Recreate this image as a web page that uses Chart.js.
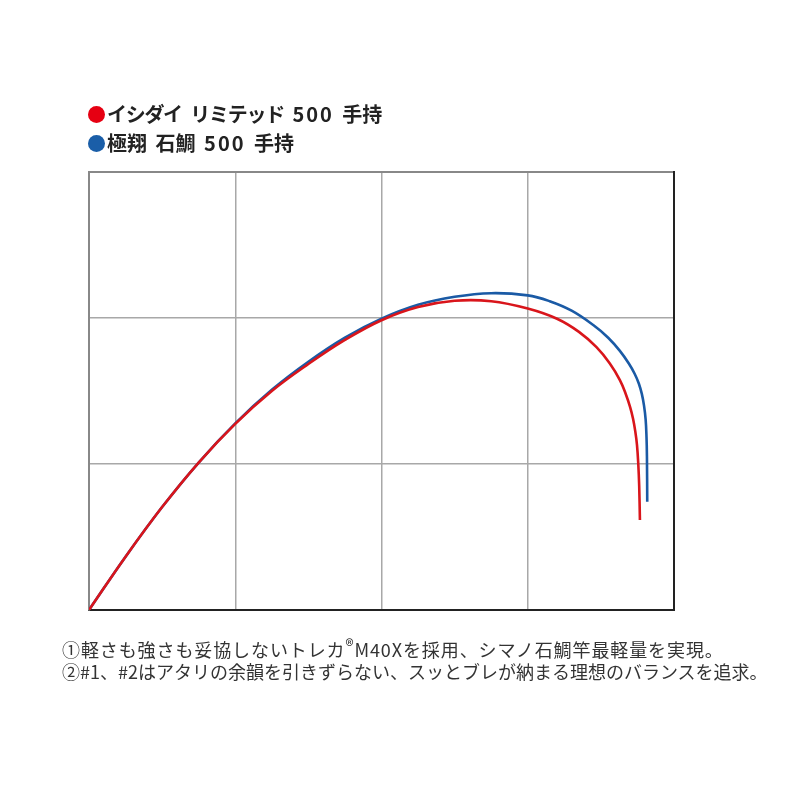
<!DOCTYPE html>
<html><head><meta charset="utf-8">
<script src="https://cdn.jsdelivr.net/npm/chart.js@4"></script>
<style>
html,body{margin:0;padding:0;background:#fff;}
#wrap{position:relative;width:800px;height:800px;}
#c{position:absolute;left:0;top:0;}
.leg{position:absolute;left:88px;font-family:"Noto Sans CJK JP","Noto Sans",sans-serif;font-weight:bold;font-size:20px;color:#222;white-space:nowrap;word-spacing:4px;}
.num{letter-spacing:2px;}
.kana{letter-spacing:-1.3px;}
.dot{display:inline-block;width:17px;height:17px;border-radius:50%;vertical-align:-1px;margin-right:2px;}
.note{position:absolute;left:62px;font-family:"Noto Sans CJK JP",sans-serif;font-size:18px;color:#333;white-space:nowrap;}
sup{font-size:17px;line-height:0;vertical-align:5px;}
</style></head>
<body><div id="wrap">
<canvas id="c" width="800" height="800"></canvas>
<div class="leg" style="top:99px"><span class="dot" style="background:#e60012"></span><span class="kana">イシダイ</span> <span class="kana">リミテッド</span> <span class="num">500</span> 手持</div>
<div class="leg" style="top:128px"><span class="dot" style="background:#1a5ea8"></span>極翔 石鯛 <span class="num">500</span> 手持</div>
<div class="note" style="top:636px;letter-spacing:0.9px">①軽さも強さも妥協しないトレカ<sup>®</sup>M40Xを採用、シマノ石鯛竿最軽量を実現。</div>
<div class="note" style="top:658px">②#1、#2はアタリの余韻を引きずらない、スッとブレが納まる理想のバランスを追求。</div>
</div>
<script>
const seriesNames = ["イシダイ リミテッド 500 手持", "極翔 石鯛 500 手持"];
const redX = [0, 0.25, 0.5, 0.75, 1.0, 1.25, 1.5, 1.75, 2.0, 2.25, 2.5, 2.75, 3.0, 3.2, 3.35, 3.47, 3.56, 3.63, 3.67, 3.70, 3.72, 3.735, 3.747, 3.756, 3.762, 3.767];
const redY = [0, 0.365, 0.705, 1.01, 1.275, 1.5, 1.685, 1.85, 1.985, 2.075, 2.118, 2.115, 2.065, 1.995, 1.905, 1.80, 1.69, 1.575, 1.48, 1.39, 1.31, 1.225, 1.13, 0.995, 0.85, 0.616];
const blueX = [0, 0.25, 0.5, 0.75, 1.0, 1.25, 1.5, 1.75, 2.0, 2.25, 2.5, 2.75, 3.0, 3.15, 3.3, 3.45, 3.55, 3.63, 3.69, 3.73, 3.76, 3.78, 3.795, 3.806, 3.812, 3.815, 3.817];
const blueY = [0, 0.365, 0.705, 1.01, 1.278, 1.508, 1.7, 1.865, 1.995, 2.09, 2.145, 2.17, 2.155, 2.115, 2.05, 1.95, 1.865, 1.775, 1.69, 1.62, 1.55, 1.48, 1.40, 1.305, 1.185, 1.05, 0.742];
const xTicks = [0, 1, 2, 3, 4];
const yTicks = [0, 1, 2, 3];

const toPts = (xs, ys) => xs.map((x, i) => ({x: x, y: ys[i]}));
const hidden = {display: false};
new Chart(document.getElementById('c'), {
  type: 'scatter',
  data: {datasets: [
    {label: seriesNames[0], data: toPts(redX, redY), showLine: true, borderColor: '#d9151b', borderWidth: 2.6, pointRadius: 0, tension: 0.4, fill: false},
    {label: seriesNames[1], data: toPts(blueX, blueY), showLine: true, borderColor: '#1a5aa5', borderWidth: 2.6, pointRadius: 0, tension: 0.4, fill: false}
  ]},
  options: {
    responsive: false, animation: false,
    layout: {padding: {left: 89, right: 126, top: 172, bottom: 190}},
    plugins: {legend: hidden, tooltip: {enabled: false}},
    scales: {
      x: {type: 'linear', min: xTicks[0], max: xTicks[xTicks.length-1],
          afterBuildTicks: s => { s.ticks = xTicks.map(v => ({value: v})); },
          ticks: {display: false}, grid: {color: '#a8a8a8', lineWidth: 1.5, drawTicks: false},
          border: {color: '#222', width: 2}},
      y: {type: 'linear', min: yTicks[0], max: yTicks[yTicks.length-1],
          afterBuildTicks: s => { s.ticks = yTicks.map(v => ({value: v})); },
          ticks: {display: false}, grid: {color: '#a8a8a8', lineWidth: 1.5, drawTicks: false},
          border: {color: '#888', width: 2}},
      x2: {type: 'linear', position: 'top', min: 0, max: 4, ticks: {display: false},
          grid: {display: false, drawTicks: false}, border: {color: '#888', width: 2}},
      y2: {type: 'linear', position: 'right', min: 0, max: 3, ticks: {display: false},
          grid: {display: false, drawTicks: false}, border: {color: '#222', width: 2}}
    }
  }
});
</script>
</body></html>
